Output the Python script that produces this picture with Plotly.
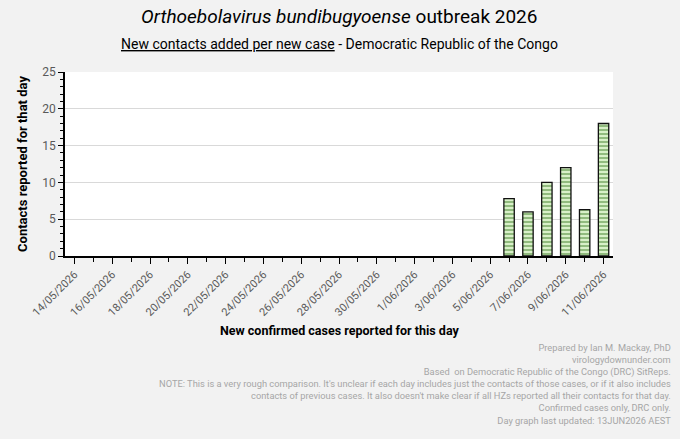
import plotly.graph_objects as go

dates = ["14/05/2026","15/05/2026","16/05/2026","17/05/2026","18/05/2026","19/05/2026","20/05/2026",
         "21/05/2026","22/05/2026","23/05/2026","24/05/2026","25/05/2026","26/05/2026","27/05/2026",
         "28/05/2026","29/05/2026","30/05/2026","31/05/2026","1/06/2026","2/06/2026","3/06/2026",
         "4/06/2026","5/06/2026","6/06/2026","7/06/2026","8/06/2026","9/06/2026","10/06/2026","11/06/2026"]
contacts = [None]*23 + [7.8, 6.0, 10.0, 12.0, 6.3, 18.0]

F = "Roboto"
x = list(range(len(dates)))
fig = go.Figure(go.Bar(
    x=x, y=contacts, width=0.55,
    marker=dict(color="#c6e8b0", line=dict(color="#111", width=1.3),
                pattern=dict(shape="-", fgcolor="#3a7a22", bgcolor="#d8f0c8", size=4, solidity=0.45)),
))
fig.update_layout(
    width=680, height=439, paper_bgcolor="#f2f2f2", plot_bgcolor="white",
    margin=dict(l=65, r=67, t=72, b=183), showlegend=False,
    font=dict(family=F, color="#595959"),
)
fig.update_xaxes(
    range=[-0.5, len(dates)-0.5], tickmode="array", tickvals=x[::2], ticktext=dates[::2],
    tickangle=-45, tickfont=dict(size=11, color="#595959"), ticks="outside", ticklen=6,
    tickcolor="black", showline=True, linecolor="black", linewidth=1.5, showgrid=False,
    zeroline=False, automargin=False,
    minor=dict(ticks="outside", tickmode="array", tickvals=x[1::2], ticklen=4, tickcolor="black", showgrid=False),
)
fig.update_yaxes(
    range=[0, 25], dtick=5, tickfont=dict(size=12, color="#595959"), ticks="outside", ticklen=5,
    tickcolor="black", showline=True, linecolor="black", linewidth=1.5, gridcolor="#d9d9d9",
    zeroline=False, automargin=False,
    minor=dict(ticks="outside", dtick=1, ticklen=3, tickcolor="black", showgrid=False),
    title=dict(text="<b>Contacts reported for that day</b>", font=dict(size=13, color="black"), standoff=12),
)
fig.add_annotation(xref="paper", yref="paper", x=0.5, y=1, yshift=42, showarrow=False,
                   text="<i>Orthoebolavirus bundibugyoense</i> outbreak 2026",
                   font=dict(size=19, color="black", family=F), xanchor="center", yanchor="bottom")
fig.add_annotation(xref="paper", yref="paper", x=0.5, y=1, yshift=18, showarrow=False,
                   text="<u>New contacts added per new case</u> - Democratic Republic of the Congo",
                   font=dict(size=14, color="black", family=F), xanchor="center", yanchor="bottom")
fig.add_annotation(xref="paper", yref="paper", x=0.5, y=0, yshift=-74, showarrow=False,
                   text="<b>New confirmed cases reported for this day</b>",
                   font=dict(size=12.5, color="black", family=F), xanchor="center", yanchor="middle")
notes = ["Prepared by Ian M. Mackay, PhD", "virologydownunder.com",
         "Based  on Democratic Republic of the Congo (DRC) SitReps.",
         "NOTE: This is a very rough comparison. It's unclear if each day includes just the contacts of those cases, or if it also includes",
         "contacts of previous cases. It also doesn't make clear if all HZs reported all their contacts for that day.",
         "Confirmed cases only, DRC only.", "Day graph last updated: 13JUN2026 AEST"]
fig.add_annotation(xref="paper", yref="paper", x=1, y=0, xshift=60, yshift=-84, showarrow=False,
                   text="<br>".join(notes), align="right", xanchor="right", yanchor="top",
                   font=dict(size=9.3, color="#a6a6a6", family=F))
fig.write_html("out.html", config={"displayModeBar": False},
               post_script="document.body.style.margin='0';window.dispatchEvent(new Event('resize'));")
